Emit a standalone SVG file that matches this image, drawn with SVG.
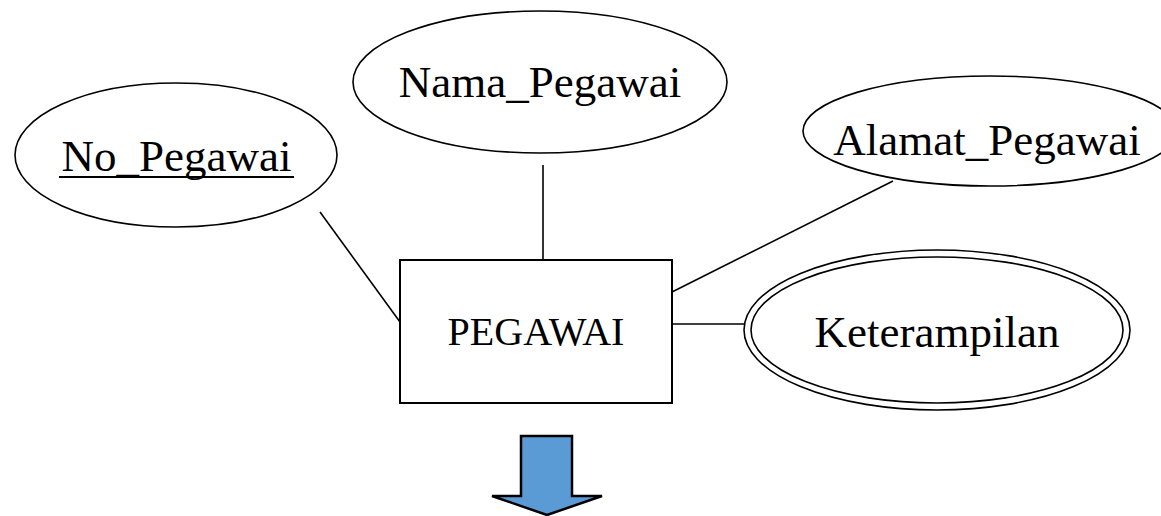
<svg xmlns="http://www.w3.org/2000/svg" width="1161" height="516" viewBox="0 0 1161 516">
  <style>
    .attr { fill: #ffffff; stroke: #000000; stroke-width: 1.6; }
    .entity { fill: #ffffff; stroke: #000000; stroke-width: 2; }
    .label { font-family: "Liberation Serif", "DejaVu Serif", serif; font-size: 45px; fill: #000000; text-anchor: middle; }
    .edge { stroke: #000000; stroke-width: 1.6; fill: none; }
  </style>
  <rect width="1161" height="516" fill="#ffffff"/>

  <!-- connectors between the entity and its attributes -->
  <g id="connectors">
    <line class="edge" x1="320" y1="212" x2="400" y2="322"/>
    <line class="edge" x1="543" y1="165" x2="543" y2="260"/>
    <line class="edge" x1="672" y1="292" x2="893" y2="181"/>
    <line class="edge" x1="672" y1="324" x2="745" y2="324"/>
  </g>

  <!-- key attribute -->
  <g id="no-pegawai">
    <ellipse class="attr" cx="176" cy="155" rx="161" ry="72"/>
    <text class="label" x="176.5" y="171">No_Pegawai</text>
    <line x1="59" y1="177" x2="294" y2="177" stroke="#000" stroke-width="2"/>
  </g>

  <g id="nama-pegawai">
    <ellipse class="attr" cx="540" cy="82" rx="187" ry="71"/>
    <text class="label" x="540" y="97">Nama_Pegawai</text>
  </g>

  <g id="alamat-pegawai">
    <ellipse class="attr" cx="990" cy="131" rx="187" ry="55"/>
    <text class="label" x="987" y="155">Alamat_Pegawai</text>
  </g>

  <!-- multivalued attribute (double outline) -->
  <g id="keterampilan">
    <ellipse class="attr" cx="937" cy="330" rx="193" ry="80"/>
    <ellipse class="attr" cx="937" cy="330" rx="186" ry="73"/>
    <text class="label" x="937" y="347">Keterampilan</text>
  </g>

  <!-- entity -->
  <g id="pegawai">
    <rect class="entity" x="400" y="260" width="272" height="143"/>
    <text class="label" x="536" y="345" style="font-size:40px">PEGAWAI</text>
  </g>

  <!-- block arrow pointing down -->
  <g id="down-arrow">
    <polygon points="521,436 572,436 572,496 602,496 547,515 492,496 521,496" fill="#5B9BD5" stroke="#000" stroke-width="2.5" stroke-linejoin="miter"/>
  </g>
</svg>
